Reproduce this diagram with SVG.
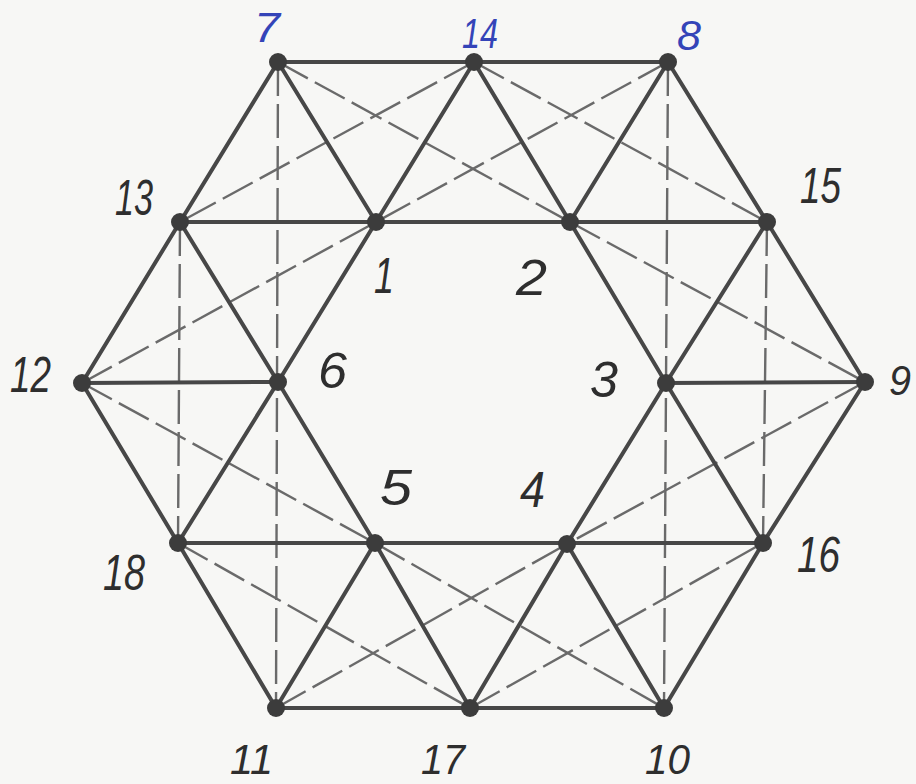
<svg xmlns="http://www.w3.org/2000/svg" width="916" height="784" viewBox="0 0 916 784">
<style>
.bg{fill:#f7f7f5}
.s{stroke:#474747;stroke-width:4;stroke-linecap:round;fill:none}
.d{stroke:#6a6a6a;stroke-width:2.4;stroke-dasharray:34 8;fill:none}
.n{fill:#3c3c3c}
.t{font-family:"Liberation Sans",Arial,sans-serif;font-style:italic;font-size:50px;fill:#2e2e2e}
.e{font-size:43px}
.b{fill:#3444b8}
</style>
<rect class="bg" x="0" y="0" width="916" height="784"/>
<g id="connectors">
<g id="dashed">
<line class="d" x1="278" y1="62" x2="276" y2="708"/>
<line class="d" x1="180" y1="222" x2="178" y2="543"/>
<line class="d" x1="668" y1="62" x2="664" y2="708"/>
<line class="d" x1="767" y1="222" x2="763" y2="543"/>
<line class="d" x1="278" y1="62" x2="570" y2="222"/>
<line class="d" x1="474" y1="62" x2="180" y2="222"/>
<line class="d" x1="474" y1="62" x2="767" y2="222"/>
<line class="d" x1="668" y1="62" x2="376" y2="222"/>
<line class="d" x1="82" y1="383" x2="376" y2="222"/>
<line class="d" x1="82" y1="383" x2="375" y2="543"/>
<line class="d" x1="570" y1="222" x2="865" y2="382"/>
<line class="d" x1="865" y1="382" x2="567" y2="544"/>
<line class="d" x1="178" y1="543" x2="470" y2="708"/>
<line class="d" x1="276" y1="708" x2="567" y2="544"/>
<line class="d" x1="375" y1="543" x2="664" y2="708"/>
<line class="d" x1="470" y1="708" x2="763" y2="543"/>
</g>
<g id="solid">
<line class="s" x1="278" y1="62" x2="668" y2="62"/>
<line class="s" x1="180" y1="222" x2="767" y2="222"/>
<line class="s" x1="82" y1="383" x2="278" y2="382"/>
<line class="s" x1="666" y1="383" x2="865" y2="382"/>
<line class="s" x1="178" y1="543" x2="763" y2="543"/>
<line class="s" x1="276" y1="708" x2="664" y2="708"/>
<line class="s" x1="278" y1="62" x2="180" y2="222"/>
<line class="s" x1="180" y1="222" x2="82" y2="383"/>
<line class="s" x1="82" y1="383" x2="178" y2="543"/>
<line class="s" x1="178" y1="543" x2="276" y2="708"/>
<line class="s" x1="668" y1="62" x2="767" y2="222"/>
<line class="s" x1="767" y1="222" x2="865" y2="382"/>
<line class="s" x1="865" y1="382" x2="763" y2="543"/>
<line class="s" x1="763" y1="543" x2="664" y2="708"/>
<line class="s" x1="278" y1="62" x2="376" y2="222"/>
<line class="s" x1="474" y1="62" x2="376" y2="222"/>
<line class="s" x1="474" y1="62" x2="570" y2="222"/>
<line class="s" x1="668" y1="62" x2="570" y2="222"/>
<line class="s" x1="180" y1="222" x2="278" y2="382"/>
<line class="s" x1="376" y1="222" x2="278" y2="382"/>
<line class="s" x1="178" y1="543" x2="278" y2="382"/>
<line class="s" x1="375" y1="543" x2="278" y2="382"/>
<line class="s" x1="375" y1="543" x2="276" y2="708"/>
<line class="s" x1="375" y1="543" x2="470" y2="708"/>
<line class="s" x1="567" y1="544" x2="470" y2="708"/>
<line class="s" x1="567" y1="544" x2="664" y2="708"/>
<line class="s" x1="570" y1="222" x2="666" y2="383"/>
<line class="s" x1="767" y1="222" x2="666" y2="383"/>
<line class="s" x1="567" y1="544" x2="666" y2="383"/>
<line class="s" x1="763" y1="543" x2="666" y2="383"/>
</g>
</g>
<g id="n7"><circle class="n" cx="278" cy="62" r="9"/><text class="t e b" x="254" y="42" textLength="26" lengthAdjust="spacingAndGlyphs">7</text></g>
<g id="n14"><circle class="n" cx="474" cy="62" r="9"/><text class="t e b" x="462" y="48" textLength="36" lengthAdjust="spacingAndGlyphs">14</text></g>
<g id="n8"><circle class="n" cx="668" cy="62" r="9"/><text class="t e b" x="677" y="50" textLength="24" lengthAdjust="spacingAndGlyphs">8</text></g>
<g id="n13"><circle class="n" cx="180" cy="222" r="9"/><text class="t" x="115" y="215" textLength="38" lengthAdjust="spacingAndGlyphs">13</text></g>
<g id="n1"><circle class="n" cx="376" cy="222" r="9"/><text class="t" x="374" y="293" textLength="20" lengthAdjust="spacingAndGlyphs">1</text></g>
<g id="n2"><circle class="n" cx="570" cy="222" r="9"/><text class="t" x="516" y="295" textLength="31" lengthAdjust="spacingAndGlyphs">2</text></g>
<g id="n15"><circle class="n" cx="767" cy="222" r="9"/><text class="t" x="800" y="203" textLength="41" lengthAdjust="spacingAndGlyphs">15</text></g>
<g id="n12"><circle class="n" cx="82" cy="383" r="9"/><text class="t" x="10" y="392" textLength="41" lengthAdjust="spacingAndGlyphs">12</text></g>
<g id="n6"><circle class="n" cx="278" cy="382" r="9"/><text class="t" x="318" y="388" textLength="29" lengthAdjust="spacingAndGlyphs">6</text></g>
<g id="n3"><circle class="n" cx="666" cy="383" r="9"/><text class="t" x="590" y="397" textLength="28" lengthAdjust="spacingAndGlyphs">3</text></g>
<g id="n9"><circle class="n" cx="865" cy="382" r="9"/><text class="t e" x="889" y="395" textLength="22" lengthAdjust="spacingAndGlyphs">9</text></g>
<g id="n18"><circle class="n" cx="178" cy="543" r="9"/><text class="t" x="103" y="590" textLength="42" lengthAdjust="spacingAndGlyphs">18</text></g>
<g id="n5"><circle class="n" cx="375" cy="543" r="9"/><text class="t" x="380" y="505" textLength="32" lengthAdjust="spacingAndGlyphs">5</text></g>
<g id="n4"><circle class="n" cx="567" cy="544" r="9"/><text class="t" x="520" y="507" textLength="25" lengthAdjust="spacingAndGlyphs">4</text></g>
<g id="n16"><circle class="n" cx="763" cy="543" r="9"/><text class="t" x="797" y="572" textLength="43" lengthAdjust="spacingAndGlyphs">16</text></g>
<g id="n11"><circle class="n" cx="276" cy="708" r="9"/><text class="t e" x="230" y="774" textLength="43" lengthAdjust="spacingAndGlyphs">11</text></g>
<g id="n17"><circle class="n" cx="470" cy="708" r="9"/><text class="t e" x="421" y="774" textLength="44" lengthAdjust="spacingAndGlyphs">17</text></g>
<g id="n10"><circle class="n" cx="664" cy="708" r="9"/><text class="t e" x="645" y="774" textLength="45" lengthAdjust="spacingAndGlyphs">10</text></g>
</svg>
